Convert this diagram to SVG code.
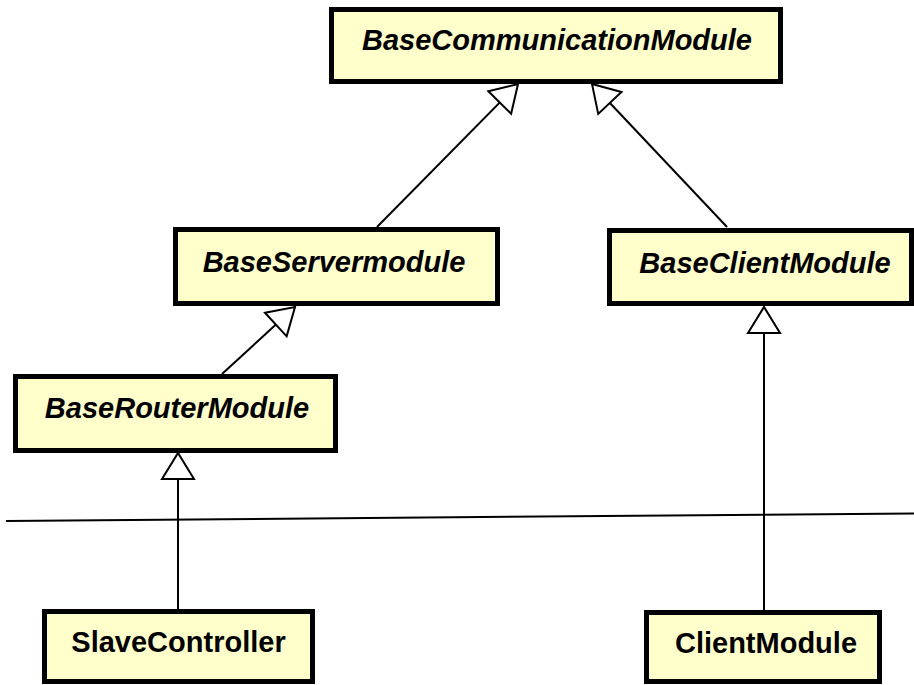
<svg xmlns="http://www.w3.org/2000/svg" width="914" height="685" viewBox="0 0 914 685">
  <style>
    .box { fill: #ffffcc; stroke: #000; stroke-width: 5; }
    .lbl { font-family: "Liberation Sans", Arial, sans-serif; font-size: 29px; font-weight: bold; text-anchor: middle; fill: #000; }
    .abs { font-style: italic; }
    .edge { stroke: #000; stroke-width: 2; fill: none; marker-end: url(#gen); }
    .sep { stroke: #000; stroke-width: 2; fill: none; }
  </style>
  <defs>
    <!-- hollow generalization arrowhead -->
    <marker id="gen" markerUnits="userSpaceOnUse" markerWidth="30" markerHeight="36" viewBox="0 0 30 36" refX="28" refY="18" orient="auto">
      <path d="M2,2 L28,18 L2,34 Z" fill="#fff" stroke="#000" stroke-width="2" stroke-linejoin="miter"/>
    </marker>
  </defs>
  <rect width="914" height="685" fill="#fff"/>

  <g id="connectors">
    <line class="sep" x1="6" y1="521" x2="914" y2="513.5"/>
    <line class="edge" x1="377" y1="227" x2="518" y2="84"/>
    <line class="edge" x1="727" y1="227" x2="592" y2="84"/>
    <line class="edge" x1="222" y1="374" x2="295" y2="307"/>
    <line class="edge" x1="178" y1="609" x2="178" y2="453"/>
    <line class="edge" x1="764" y1="610" x2="764" y2="307"/>
  </g>

  <g id="BaseCommunicationModule">
    <rect class="box" x="331.5" y="9.5" width="449" height="72"/>
    <text class="lbl abs" x="557" y="50">BaseCommunicationModule</text>
  </g>
  <g id="BaseServermodule">
    <rect class="box" x="175.5" y="229.5" width="322" height="74"/>
    <text class="lbl abs" x="334" y="272">BaseServermodule</text>
  </g>
  <g id="BaseClientModule">
    <rect class="box" x="609.5" y="230.5" width="302" height="73"/>
    <text class="lbl abs" x="765" y="273">BaseClientModule</text>
  </g>
  <g id="BaseRouterModule">
    <rect class="box" x="15.5" y="376.5" width="320" height="74"/>
    <text class="lbl abs" x="177" y="418">BaseRouterModule</text>
  </g>
  <g id="SlaveController">
    <rect class="box" x="44.5" y="611.5" width="268" height="70"/>
    <text class="lbl" x="178.5" y="652">SlaveController</text>
  </g>
  <g id="ClientModule">
    <rect class="box" x="646.5" y="612.5" width="233" height="69"/>
    <text class="lbl" x="766" y="653">ClientModule</text>
  </g>
</svg>
